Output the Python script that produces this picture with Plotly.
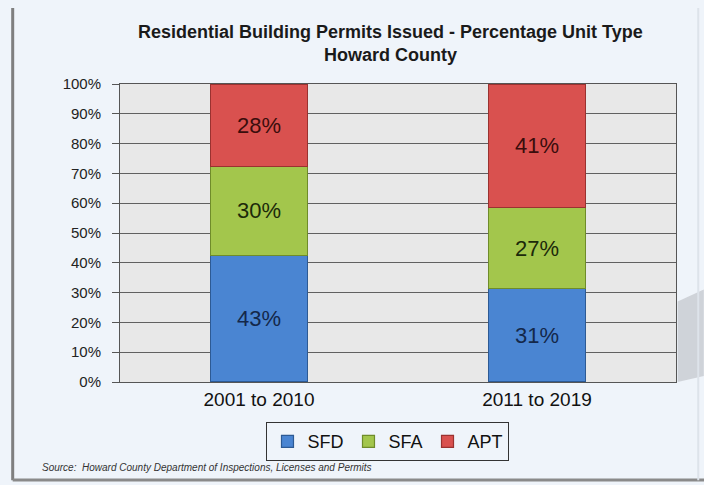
import plotly.graph_objects as go

# Residential permits by unit type, share of units per period
periods = ["2001 to 2010", "2011 to 2019"]
unit_types = ["SFD", "SFA", "APT"]
sfd = [43, 31]
sfa = [30, 27]
apt = [28, 41]
y_ticks = [0, 10, 20, 30, 40, 50, 60, 70, 80, 90, 100]

series = {"SFD": sfd, "SFA": sfa, "APT": apt}
fills = {"SFD": "#4a85d2", "SFA": "#a3c64c", "APT": "#d9514f"}
edges = {"SFD": "#2d5a94", "SFA": "#6f8c2a", "APT": "#9a3230"}
label_colors = {"SFD": "#14284a", "SFA": "#1c2a0a", "APT": "#3a0d0c"}

fig = go.Figure()
for name in unit_types:
    vals = series[name]
    fig.add_trace(go.Bar(
        x=periods,
        y=vals,
        name=name,
        text=[f"{v}%" for v in vals],
        textposition="inside",
        insidetextanchor="middle",
        textangle=0,
        constraintext="none",
        textfont=dict(family="Liberation Sans, Arial", size=22, color=label_colors[name]),
        marker=dict(color=fills[name], line=dict(color=edges[name], width=1.2)),
        width=0.35,
        hoverinfo="skip",
    ))

fig.update_layout(
    width=704,
    height=485,
    barmode="stack",
    barnorm="percent",
    margin=dict(l=120, r=28, t=84, b=103),
    paper_bgcolor="#eff4fa",
    plot_bgcolor="#e8e8e8",
    font=dict(family="Liberation Sans, Arial", color="#222"),
    showlegend=True,
    legend=dict(
        orientation="h",
        traceorder="normal",
        x=0.482, xanchor="center",
        y=-0.135, yanchor="top",
        bordercolor="#333", borderwidth=1,
        bgcolor="rgba(255,255,255,0)",
        font=dict(size=18, color="#111"),
        itemwidth=30,
    ),
    annotations=[
        dict(
            text="<b>Residential Building Permits Issued - Percentage Unit Type<br>Howard County</b>",
            xref="paper", yref="paper", x=0.487, y=1.0, yshift=17,
            xanchor="center", yanchor="bottom", showarrow=False,
            font=dict(size=18, color="#1a1a1a"),
        ),
        dict(
            text="<i>Source:  Howard County Department of Inspections, Licenses and Permits</i>",
            xref="paper", yref="paper", x=-0.143, y=-0.288,
            xanchor="left", yanchor="middle", showarrow=False,
            font=dict(size=10, color="#333"),
        ),
    ],
    shapes=[
        # outer panel frame
        dict(type="line", xref="paper", yref="paper", x0=-0.193, x1=-0.193, y0=-0.33, y1=1.255,
             line=dict(color="#7f7f7f", width=3)),
        dict(type="line", xref="paper", yref="paper", x0=-0.193, x1=1.06, y0=-0.329, y1=-0.329,
             line=dict(color="#8a8a8a", width=3)),
        dict(type="line", xref="paper", yref="paper", x0=1.04, x1=1.04, y0=-0.33, y1=1.255,
             line=dict(color="#dde3ea", width=2)),
        # soft shadow at the right edge of the plot
        dict(type="path", xref="paper", yref="paper",
             path="M 1.003 0.27 L 1.05 0.31 L 1.05 0.02 L 1.003 0.0 Z",
             fillcolor="rgba(150,150,155,0.35)", line=dict(width=0), layer="below"),
    ],
)

fig.update_xaxes(
    showline=True, linecolor="#555", linewidth=1, mirror=True,
    tickfont=dict(size=19, color="#111"),
    ticks="", showgrid=False,
)
fig.update_yaxes(
    range=[0, 100],
    tickvals=y_ticks,
    ticktext=[f"{t}%" for t in y_ticks],
    showline=True, linecolor="#555", linewidth=1, mirror=True,
    ticks="outside", ticklen=7, tickcolor="#555",
    ticklabelstandoff=8,
    gridcolor="#606060", gridwidth=1,
    tickfont=dict(size=15, color="#222"),
    zeroline=False,
)

fig.write_html("out.html")
